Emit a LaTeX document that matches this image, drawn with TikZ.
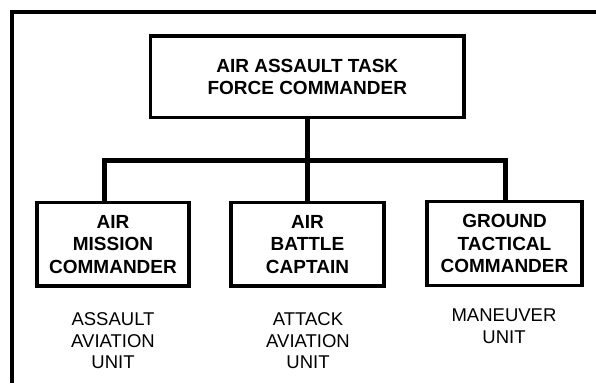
\documentclass[tikz,border=0pt]{standalone}
\usepackage{fontspec}
\setmainfont{Liberation Sans}
\begin{document}
\begin{tikzpicture}[x=1pt,y=-1pt,
  boxstyle/.style={draw=black, line width=3.4pt, rectangle, inner sep=0pt, outer sep=0pt,
    align=center, font=\fontsize{19}{22.5}\selectfont\bfseries},
  conn/.style={draw=black, line width=5pt, line join=miter},
  unitlabel/.style={inner sep=0pt, align=center, font=\fontsize{18.5}{21.5}\selectfont}]
\useasboundingbox (0,0) rectangle (596,383);
\fill[white] (0,0) rectangle (596,383);
% frame
\draw[line width=4pt, line join=miter] (12,383) -- (12,11.5) -- (596,11.5);
% boxes
\node[boxstyle, minimum width=313.5pt, minimum height=81.5pt] (top) at (307.25,76.75)
  {AIR ASSAULT TASK\\FORCE COMMANDER};
\node[boxstyle, minimum width=152pt, minimum height=83.5pt] (b1) at (113,244.25)
  {AIR\\MISSION\\COMMANDER};
\node[boxstyle, minimum width=153pt, minimum height=83.5pt] (b2) at (307.5,244.25)
  {AIR\\BATTLE\\CAPTAIN};
\node[boxstyle, minimum width=155pt, minimum height=83.5pt] (b3) at (504.5,243.5)
  {GROUND\\TACTICAL\\COMMANDER};
% connectors
\coordinate (jL) at (104.5,160.5);
\coordinate (jR) at (505,160.5);
\draw[conn] (top.south) -- (top.south |- jL);
\draw[conn] (jL |- b1.north) -- (jL) -- (jR) -- (jR |- b3.north);
\draw[conn] (b2.north) -- (b2.north |- jL);
% unit labels
\node[unitlabel] (l1) at (113,341) {ASSAULT\\AVIATION\\UNIT};
\node[unitlabel] (l2) at (308,341) {ATTACK\\AVIATION\\UNIT};
\node[unitlabel] (l3) at (504,326) {MANEUVER\\UNIT};
\end{tikzpicture}
\end{document}
